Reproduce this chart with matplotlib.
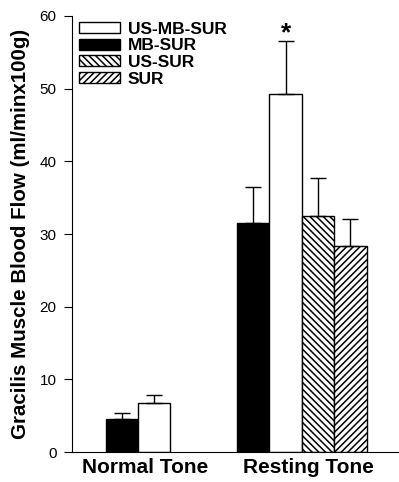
import matplotlib.pyplot as plt
from matplotlib.patches import Patch

plt.rcParams['font.family'] = ['Liberation Sans', 'DejaVu Sans']
plt.rcParams['hatch.linewidth'] = 1.1

groups = ["Normal Tone", "Resting Tone"]
series = ["US-MB-SUR", "MB-SUR", "US-SUR", "SUR"]

# means and SEM
normal_mb = [4.6]
normal_mb_err = [0.8]
normal_usmb = [6.7]
normal_usmb_err = [1.2]
rest_mb = [31.5]
rest_mb_err = [5.0]
rest_usmb = [49.3]
rest_usmb_err = [7.2]
rest_us = [32.5]
rest_us_err = [5.2]
rest_sur = [28.4]
rest_sur_err = [3.6]

fig = plt.figure(figsize=(3.99, 4.82), dpi=100)
ax = fig.add_axes([0.18, 0.062, 0.82, 0.905])

w = 1.0
ekw = dict(lw=1, capsize=6, capthick=1, ecolor="black")

def bar(x, h, e, fc, hatch=None):
    ax.bar(x, h, width=w, color=fc, edgecolor="black", linewidth=1, hatch=hatch)
    ax.errorbar(x, h, yerr=[[0] * len(e), e], fmt="none", **ekw)

bar([1.54], normal_mb, normal_mb_err, "black")
bar([2.54], normal_usmb, normal_usmb_err, "white")
bar([5.6], rest_mb, rest_mb_err, "black")
bar([6.6], rest_usmb, rest_usmb_err, "white")
bar([7.6], rest_us, rest_us_err, "white", "\\\\\\\\\\")
bar([8.6], rest_sur, rest_sur_err, "white", "/////")

ax.text(6.6, rest_usmb[0] + rest_usmb_err[0] - 0.5, "*", ha="center", va="bottom",
        fontsize=19, fontweight="bold")

ax.set_xlim(0, 10.1)
ax.set_ylim(0, 60)
ax.set_yticks(range(0, 61, 10))
ax.tick_params(axis="y", direction="out", length=6, labelsize=11, pad=5)
ax.set_xticks([2.25, 7.3])
ax.set_xticklabels(groups, fontsize=15, fontweight="bold")
ax.tick_params(axis="x", length=0, pad=4)
ax.set_ylabel("Gracilis Muscle Blood Flow (ml/minx100g)", fontsize=14.8, fontweight="bold",
              labelpad=7)
ax.spines["top"].set_visible(False)
ax.spines["right"].set_visible(False)

handles = [
    Patch(facecolor="white", edgecolor="black"),
    Patch(facecolor="black", edgecolor="black"),
    Patch(facecolor="white", edgecolor="black", hatch="\\\\\\\\\\"),
    Patch(facecolor="white", edgecolor="black", hatch="/////"),
]
ax.legend(handles, series, loc="upper left", bbox_to_anchor=(-0.015, 1.015), frameon=False,
          prop=dict(weight="bold", size=12.5), handlelength=2.35, handleheight=0.6,
          labelspacing=0.1, handletextpad=0.45, borderpad=0.2)

fig.savefig("out.png", dpi=100)
